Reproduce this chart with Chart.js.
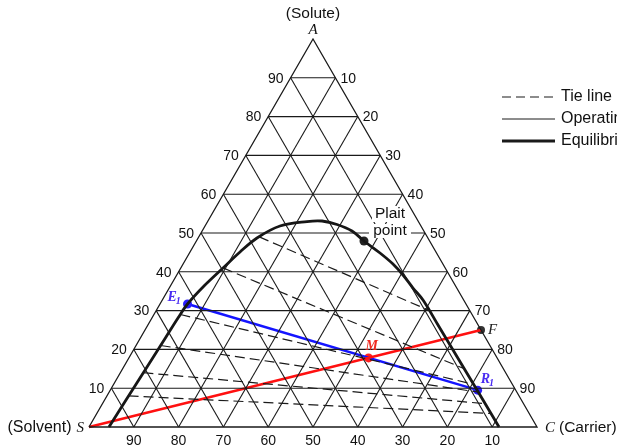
<!DOCTYPE html>
<html><head><meta charset="utf-8">
<script src="https://cdn.jsdelivr.net/npm/chart.js@4/dist/chart.umd.min.js"></script>
<style>html,body{margin:0;padding:0;background:#fff;overflow:hidden}#wrap{width:617px;height:446px}</style>
</head><body><div id="wrap"><canvas id="c" width="617" height="446"></canvas></div>
<script>
// ---- data (mass fractions: A = solute, C = carrier, S = 1 - A - C) ----
const gridTicks = [10, 20, 30, 40, 50, 60, 70, 80, 90];
const curveA = [0, 0.0696, 0.1546, 0.232, 0.2809, 0.317, 0.3634, 0.4098, 0.451, 0.4871, 0.518, 0.5296, 0.5309, 0.5219, 0.5052,
                0.4794, 0.4485, 0.4201, 0.3918, 0.3582, 0.3273, 0.2629, 0.1985, 0.134, 0.0696, 0];
const curveC = [0.0446, 0.0478, 0.0522, 0.0559, 0.0582, 0.0614, 0.075, 0.0942, 0.1116, 0.1314, 0.1673, 0.2218, 0.2547, 0.2926, 0.3344,
                0.3741, 0.4253, 0.4685, 0.505, 0.5441, 0.5819, 0.6476, 0.7133, 0.779, 0.8447, 0.9152];
const tieLeftA  = [0.49, 0.41, 0.29, 0.21, 0.14, 0.08];
const tieLeftC  = [0.135, 0.094, 0.059, 0.055, 0.0514, 0.0483];
const tieRightA = [0.30, 0.15, 0.11, 0.09, 0.06, 0.035];
const tieRightC = [0.61, 0.763, 0.8035, 0.824, 0.8544, 0.88];
const operatingA = [0.317, 0.095];   // E1, R1
const operatingC = [0.0614, 0.82];
const mixingA = [0, 0.25];           // S, F
const mixingC = [0, 0.75];
const mixPointA = [0.178];           // M
const mixPointC = [0.535];
const plaitA = [0.4794];
const plaitC = [0.3741];
const legendLabels = ['Tie line', 'Operating line', 'Equilibrium curve'];

const R3 = Math.sqrt(3) / 2;
function toXY(A, C) { return { x: C + A / 2, y: A * R3 }; }
function pts(As, Cs) { return As.map((a, i) => toXY(a, Cs[i])); }

const datasets = [];
const gridStyle = { showLine: true, borderColor: '#1a1a1a', borderWidth: 1.1, pointRadius: 0, clip: false, fill: false };
gridTicks.forEach(v => {
  const f = v / 100;
  datasets.push(Object.assign({ data: pts([f, f], [0, 1 - f]) }, gridStyle));        // constant A
  datasets.push(Object.assign({ data: pts([0, 1 - f], [f, f]) }, gridStyle));        // constant C
  datasets.push(Object.assign({ data: pts([0, 1 - f], [1 - f, 0]) }, gridStyle));    // constant S
});
datasets.push(Object.assign({}, gridStyle, { data: pts([0, 0, 1, 0], [0, 1, 0, 0]), borderWidth: 1.3 }));
tieLeftA.forEach((a, i) => {
  datasets.push({ data: pts([a, tieRightA[i]], [tieLeftC[i], tieRightC[i]]), showLine: true, borderColor: '#1a1a1a',
    borderWidth: 1.2, borderDash: [10, 5], pointRadius: 0, clip: false });
});
datasets.push({ data: pts(curveA, curveC), showLine: true, borderColor: '#161616', borderWidth: 2.8, tension: 0.35,
  pointRadius: 0, clip: false });
datasets.push({ data: pts(mixingA, mixingC), showLine: true, borderColor: '#ff1010', borderWidth: 2.5, pointRadius: 0, clip: false });
datasets.push({ data: pts(operatingA, operatingC), showLine: true, borderColor: '#1414ff', borderWidth: 2.5,
  pointRadius: 4.5, pointBackgroundColor: '#2a1cff', pointBorderWidth: 0, clip: false });
datasets.push({ data: pts(mixPointA, mixPointC), showLine: false, pointRadius: 4.5, pointBackgroundColor: '#ff2020', pointBorderWidth: 0, clip: false });
datasets.push({ data: pts([mixingA[1]], [mixingC[1]]), showLine: false, pointRadius: 4, pointBackgroundColor: '#333', pointBorderWidth: 0, clip: false });
datasets.push({ data: pts(plaitA, plaitC), showLine: false, pointRadius: 4.5, pointBackgroundColor: '#222', pointBorderWidth: 0, clip: false });

const SANS = '"Liberation Sans", Arial, sans-serif';
const SERIF = '"Liberation Serif", "Times New Roman", serif';

const labelPlugin = {
  id: 'labels',
  afterDatasetsDraw(chart) {
    const ctx = chart.ctx, xs = chart.scales.x, ys = chart.scales.y;
    const P = (A, C) => { const q = toXY(A, C); return [xs.getPixelForValue(q.x), ys.getPixelForValue(q.y)]; };
    ctx.save();
    ctx.fillStyle = '#111';
    ctx.font = '14px ' + SANS;
    ctx.textBaseline = 'middle';
    gridTicks.forEach(v => {
      const f = v / 100;
      let [x, y] = P(f, 0); ctx.textAlign = 'right'; ctx.fillText(String(v), x - 7, y + 1);
      [x, y] = P(1 - f, f); ctx.textAlign = 'left'; ctx.fillText(String(v), x + 5, y + 1);
      [x, y] = P(0, 1 - f); ctx.textAlign = 'center'; ctx.fillText(String(v), x, y + 14);
    });
    // vertices
    let [x, y] = P(1, 0);
    ctx.textAlign = 'center';
    ctx.font = '15.5px ' + SANS;
    ctx.fillText('(Solute)', x, y - 25);
    ctx.font = 'italic 15px ' + SERIF; ctx.fillText('A', x, y - 9);
    [x, y] = P(0, 0);
    ctx.textAlign = 'right';
    ctx.font = 'italic 15px ' + SERIF; ctx.fillText('S', x - 5, y + 1);
    const sw = ctx.measureText('S').width;
    ctx.font = '16px ' + SANS; ctx.fillText('(Solvent)', x - 10 - sw, y + 1);
    [x, y] = P(0, 1);
    ctx.textAlign = 'left';
    ctx.font = 'italic 15px ' + SERIF; ctx.fillText('C', x + 8, y + 1);
    const cw = ctx.measureText('C').width;
    ctx.font = '15.5px ' + SANS; ctx.fillText('(Carrier)', x + 12 + cw, y + 1);
    // point labels
    ctx.textBaseline = 'alphabetic';
    const sub = (main, s, px, py, color) => {
      ctx.fillStyle = color;
      ctx.font = 'italic bold 14px ' + SERIF; ctx.textAlign = 'left';
      ctx.fillText(main, px, py);
      const w = ctx.measureText(main).width;
      ctx.font = 'italic bold 10px ' + SERIF; ctx.fillText(s, px + w - 1, py + 3);
    };
    [x, y] = P(operatingA[0], operatingC[0]); sub('E', '1', x - 20, y - 3, '#4a2cf2');
    [x, y] = P(operatingA[1], operatingC[1]); sub('R', '1', x + 3, y - 7, '#4a2cf2');
    [x, y] = P(mixPointA[0], mixPointC[0]);
    ctx.fillStyle = '#f02a20'; ctx.font = 'italic bold 14px ' + SERIF; ctx.fillText('M', x - 3, y - 8);
    [x, y] = P(mixingA[1], mixingC[1]);
    ctx.fillStyle = '#222'; ctx.font = 'italic 15px ' + SERIF; ctx.fillText('F', x + 7, y + 4);
    // plait point label with white background
    [x, y] = P(plaitA[0], plaitC[0]);
    ctx.font = '15.5px ' + SANS; ctx.textAlign = 'center'; ctx.textBaseline = 'middle';
    ctx.fillStyle = '#fff';
    ctx.fillRect(x + 26 - 18, y - 35, 36, 16);
    ctx.fillRect(x + 26 - 21, y - 17, 42, 14);
    ctx.fillStyle = '#111';
    ctx.fillText('Plait', x + 26, y - 27);
    ctx.fillText('point', x + 26, y - 10);
    // legend
    const lx0 = 502, lx1 = 555, ly = [97, 119, 141];
    ctx.strokeStyle = '#1a1a1a';
    ctx.lineWidth = 1.2; ctx.setLineDash([9, 5]);
    ctx.beginPath(); ctx.moveTo(lx0, ly[0]); ctx.lineTo(lx1, ly[0]); ctx.stroke();
    ctx.setLineDash([]); ctx.lineWidth = 1;
    ctx.beginPath(); ctx.moveTo(lx0, ly[1]); ctx.lineTo(lx1, ly[1]); ctx.stroke();
    ctx.lineWidth = 3;
    ctx.beginPath(); ctx.moveTo(lx0, ly[2]); ctx.lineTo(lx1, ly[2]); ctx.stroke();
    ctx.textAlign = 'left'; ctx.font = '16px ' + SANS;
    legendLabels.forEach((t, i) => ctx.fillText(t, 561, ly[i]));
    ctx.restore();
  }
};

new Chart(document.getElementById('c'), {
  type: 'scatter',
  data: { datasets },
  options: {
    responsive: false, animation: false, events: [],
    layout: { padding: { left: 89, right: 80, top: 39, bottom: 19 } },
    scales: {
      x: { type: 'linear', min: 0, max: 1, display: false },
      y: { type: 'linear', min: 0, max: R3, display: false }
    },
    plugins: { legend: { display: false }, tooltip: { enabled: false } }
  },
  plugins: [labelPlugin]
});
</script></body></html>
